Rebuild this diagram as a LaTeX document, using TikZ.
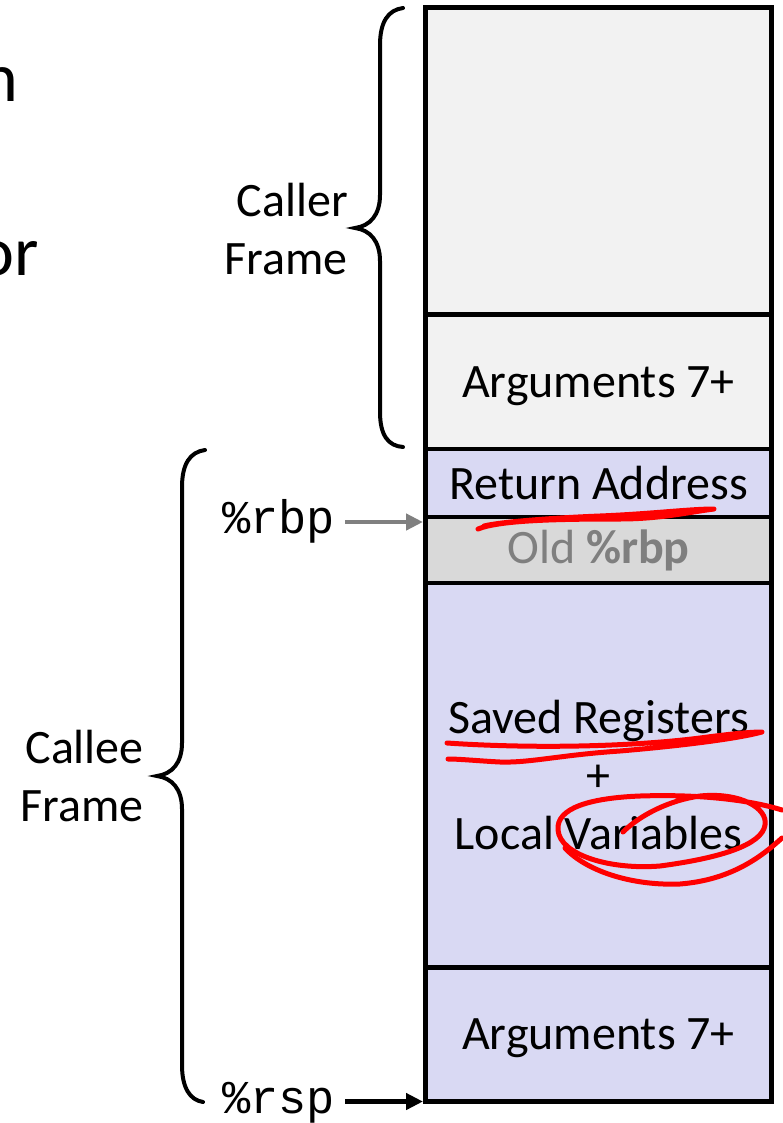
\documentclass[tikz,border=0pt]{standalone}
\usepackage{fontspec}
\setmainfont{Carlito}
\setmonofont{Liberation Mono}
\usetikzlibrary{arrows.meta}
\definecolor{callerfill}{HTML}{F2F2F2}
\definecolor{calleefill}{HTML}{D9D9F3}
\definecolor{oldfill}{HTML}{D9D9D9}
\definecolor{oldtext}{HTML}{7F7F7F}
\definecolor{pen}{HTML}{FF0000}
\definecolor{ptrgray}{HTML}{808080}

\begin{document}
\begin{tikzpicture}[x=1pt,y=-1pt,
  cell/.style={draw=black, line width=4.5pt, minimum width=346pt, inner sep=0pt,
    align=center, font=\fontsize{48}{58}\selectfont},
  lbl/.style={inner sep=0pt, align=right, font=\fontsize{48}{58}\selectfont},
  reg/.style={inner sep=0pt, font=\ttfamily\fontsize{47}{57}\selectfont},
  frag/.style={inner sep=0pt, anchor=base east, font=\fontsize{70}{84}\selectfont},
  brace/.style={draw=black, line width=4pt, line cap=round},
  scribble/.style={draw=pen, line width=5pt, line cap=round, line join=round},
  ptr/.style={line width=4.5pt, shorten <=10pt, -{Triangle[length=17pt,width=16pt]}}
]
\useasboundingbox (0,0) rectangle (782,1123);

% text cut off at the left edge
\node[frag] (fragn) at (18,102) {n};
\node[frag] (fragor) at (39,275) {or};

% stack cells, top (high addresses) to bottom
\node[cell, fill=callerfill, minimum height=307pt] (callertop) at (598.5,161) {};
\node[cell, fill=callerfill, minimum height=134.5pt, text depth=0pt] (args1) at (598.5,381.75) {Arguments 7+};
\node[cell, fill=calleefill, minimum height=68pt] (retaddr) at (598.5,483) {Return Address};
\node[cell, fill=oldfill, minimum height=66pt, text=oldtext] (oldrbp) at (598.5,550) {Old \textbf{\%rbp}};
\node[cell, fill=calleefill, minimum height=384.5pt] (saved) at (598.5,775.25)
  {Saved Registers\\+\\Local Variables};
\node[cell, fill=calleefill, minimum height=134pt, text depth=0pt] (args2) at (598.5,1034.5) {Arguments 7+};

% frame braces
\draw[brace] (403,8) .. controls (388,10) and (380,22) .. (380,45) -- (380,195)
  .. controls (380,215) and (370,226) .. (355,228)
  .. controls (370,230) and (380,241) .. (380,261) -- (380,412)
  .. controls (380,435) and (388,446) .. (403,447);
\draw[brace] (205,450) .. controls (190,452) and (182,464) .. (182,487) -- (182,743)
  .. controls (182,763) and (172,774) .. (157,776)
  .. controls (172,778) and (182,789) .. (182,809) -- (182,1065)
  .. controls (182,1088) and (190,1100) .. (203,1102);

\node[lbl, anchor=east] (callerlbl) at (348,229) {Caller\\Frame};
\node[lbl, anchor=east] (calleelbl) at (144,776) {Callee\\Frame};

% register pointers
\node[reg, anchor=base] (rbp) at (278.5,533) {\%rbp};
\node[reg, anchor=base] (rsp) at (278.5,1113) {\%rsp};
\coordinate (rbptip) at (423,522);
\coordinate (rsptip) at (423,1101.5);
\draw[ptr, draw=ptrgray, fill=ptrgray] (rbp.east |- rbptip) -- (rbptip);
\draw[ptr, draw=black, fill=black] (rsp.east |- rsptip) -- (rsptip);

% hand-drawn marks
\draw[scribble] (478,529) .. controls (500,520) and (560,519) .. (620,519)
  .. controls (660,519) and (690,512) .. (714,509)
  .. controls (690,509) and (650,514) .. (600,516)
  .. controls (550,518) and (500,522) .. (484,526);
\draw[scribble] (447,743) .. controls (520,748) and (620,748) .. (700,738)
  .. controls (730,734) and (750,732) .. (762,732)
  .. controls (740,738) and (690,745) .. (620,751)
  .. controls (560,755) and (530,763) .. (500,762)
  .. controls (480,761) and (460,759) .. (448,759);
\draw[scribble] (623,832) .. controls (640,815) and (670,800) .. (700,796)
  .. controls (740,792) and (768,808) .. (765,825)
  .. controls (762,845) and (720,858) .. (660,866)
  .. controls (610,870) and (560,855) .. (558,830)
  .. controls (556,808) and (590,798) .. (640,796)
  .. controls (700,794) and (750,800) .. (782,810);
\draw[scribble] (782,838) .. controls (760,858) and (730,880) .. (680,884)
  .. controls (630,886) and (585,870) .. (565,848);
\end{tikzpicture}
\end{document}
